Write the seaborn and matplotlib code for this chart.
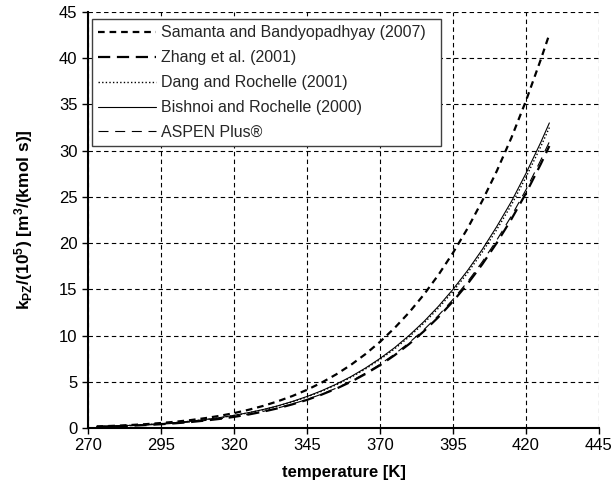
import matplotlib
matplotlib.use("Agg")
import matplotlib.pyplot as plt
import seaborn as sns
import pandas as pd

# ---- data ----
temperature = [273, 275, 280, 285, 290, 295, 300, 305, 310, 315, 320, 325, 330, 335, 340,
               345, 350, 355, 360, 365, 370, 375, 380, 385, 390, 395, 400, 405, 410, 415,
               420, 425, 428]
samanta = [0.17, 0.19, 0.25, 0.33, 0.42, 0.54, 0.68, 0.85, 1.06, 1.31, 1.61, 1.97, 2.39, 2.89,
           3.46, 4.13, 4.91, 5.80, 6.82, 7.99, 9.32, 10.82, 12.51, 14.42, 16.56, 18.95, 21.6,
           24.56, 27.8, 31.4, 35.4, 39.8, 42.6]
zhang = [0.132, 0.148, 0.193, 0.249, 0.32, 0.406, 0.512, 0.64, 0.80, 0.98, 1.20, 1.46, 1.77,
         2.13, 2.56, 3.04, 3.61, 4.25, 4.99, 5.84, 6.79, 7.87, 9.09, 10.46, 11.99, 13.70, 15.59,
         17.70, 20.03, 22.59, 25.40, 28.51, 30.5]
dang = [0.154, 0.170, 0.222, 0.286, 0.364, 0.463, 0.581, 0.724, 0.896, 1.10, 1.35, 1.64, 1.97,
        2.36, 2.83, 3.36, 3.97, 4.67, 5.47, 6.38, 7.41, 8.56, 9.87, 11.33, 12.96, 14.78, 16.78,
        19.01, 21.47, 24.13, 27.14, 30.40, 32.5]
bishnoi = [0.156, 0.173, 0.225, 0.29, 0.37, 0.47, 0.59, 0.735, 0.91, 1.12, 1.37, 1.66, 2.00,
           2.40, 2.87, 3.41, 4.03, 4.74, 5.55, 6.48, 7.52, 8.69, 10.02, 11.50, 13.16, 15.0,
           17.04, 19.3, 21.8, 24.5, 27.55, 30.86, 33.0]
aspen = [0.134, 0.150, 0.196, 0.253, 0.325, 0.412, 0.520, 0.65, 0.81, 0.995, 1.22, 1.48, 1.80,
         2.16, 2.60, 3.09, 3.66, 4.31, 5.06, 5.93, 6.89, 7.99, 9.23, 10.62, 12.17, 13.91, 15.82,
         17.97, 20.33, 22.93, 25.78, 28.94, 30.96]

series_names = ["Samanta and Bandyopadhyay (2007)", "Zhang et al. (2001)",
                "Dang and Rochelle (2001)", "Bishnoi and Rochelle (2000)", "ASPEN Plus®"]
series_values = [samanta, zhang, dang, bishnoi, aspen]
x_ticks = [270, 295, 320, 345, 370, 395, 420, 445]
y_ticks = [0, 5, 10, 15, 20, 25, 30, 35, 40, 45]

# ---- styles ----
styles = [
    dict(lw=1.6, ls=(0, (3.0, 2.2))),
    dict(lw=1.6, ls=(0, (5.5, 3.0))),
    dict(lw=1.0, ls=(0, (1.0, 1.6))),
    dict(lw=0.8, ls="-"),
    dict(lw=0.8, ls=(0, (9.0, 6.0))),
]

sns.set_theme(style="white")
plt.rcParams["font.family"] = ["Liberation Sans", "DejaVu Sans"]
plt.rcParams["mathtext.fontset"] = "custom"
plt.rcParams["mathtext.rm"] = "Liberation Sans:bold"
plt.rcParams["mathtext.bf"] = "Liberation Sans:bold"
plt.rcParams["mathtext.it"] = "Liberation Sans:bold"

fig = plt.figure(figsize=(6.15, 4.99), dpi=100)
ax = fig.add_axes([88 / 615, 1 - 428 / 499, (599 - 88) / 615, (428 - 12) / 499])

rows = []
for name, vals in zip(series_names, series_values):
    for t, v in zip(temperature, vals):
        rows.append({"temperature": t, "k": v, "series": name})
df = pd.DataFrame(rows)

for name, st in zip(series_names, styles):
    sub = df[df["series"] == name]
    sns.lineplot(data=sub, x="temperature", y="k", ax=ax, color="black",
                 linewidth=st["lw"], linestyle=st["ls"], label=name, zorder=3)

ax.set_xlim(270, 445)
ax.set_ylim(0, 45)
ax.set_xticks(x_ticks)
ax.set_yticks(y_ticks)
ax.grid(True, color="black", linestyle=(0, (4, 3)), linewidth=0.8)
ax.set_axisbelow(True)

for s in ["top", "right"]:
    ax.spines[s].set_visible(False)
for s in ["left", "bottom"]:
    ax.spines[s].set_color("black")
    ax.spines[s].set_linewidth(1.5)

ax.tick_params(axis="both", direction="out", length=4.5, width=1.0, colors="black",
               labelsize=12, left=True, bottom=True, pad=3)

ax.set_xlabel("temperature [K]", fontsize=12, fontweight="bold", color="black", labelpad=8)
ax.set_ylabel(r"k$_{\mathbf{PZ}}$/(10$^{\mathbf{5}}$) [m$^{\mathbf{3}}$/(kmol s)]",
              fontsize=12.5, fontweight="bold", color="black", labelpad=17)

leg = ax.legend(loc="upper left",
                bbox_to_anchor=(4 / 511, 0.5, (441 - 92) / 511, 0.983 - 0.5),
                mode="expand", borderaxespad=0,
                frameon=True, fancybox=False, framealpha=1, edgecolor="#404040",
                fontsize=11.5, handlelength=3.6, handletextpad=0.3, labelspacing=0.62,
                borderpad=0.4)
leg.get_frame().set_linewidth(1.0)

fig.savefig("out.png", dpi=100)
